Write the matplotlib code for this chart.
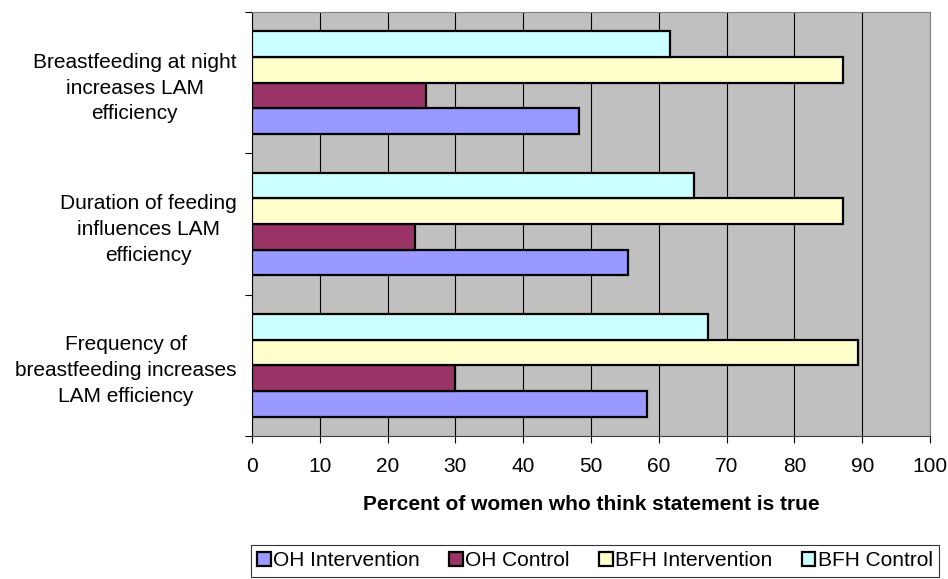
import numpy as np
import matplotlib
matplotlib.use("Agg")
import matplotlib.pyplot as plt

plt.rcParams['font.family'] = ['Liberation Sans', 'DejaVu Sans']

# categories from bottom to top (Excel draws the first category at the bottom)
statements = [
    "Frequency of\nbreastfeeding increases\nLAM efficiency",
    "Duration of feeding\ninfluences LAM\nefficiency",
    "Breastfeeding at night\nincreases LAM\nefficiency",
]
series_names = ["OH Intervention", "OH Control", "BFH Intervention", "BFH Control"]
oh_intervention = [58.2, 55.5, 48.3]
oh_control = [30.0, 24.1, 25.7]
bfh_intervention = [89.4, 87.1, 87.1]
bfh_control = [67.2, 65.2, 61.7]
x_ticks = list(range(0, 101, 10))

colors = ["#9999FF", "#993366", "#FFFFCC", "#CCFFFF"]
values = [oh_intervention, oh_control, bfh_intervention, bfh_control]
fs = 15

fig = plt.figure(figsize=(9.48, 5.79), dpi=100)
ax = fig.add_axes([252 / 948, 1 - 436 / 579, 678 / 948, 424 / 579])
ax.set_facecolor("#C0C0C0")

pos = np.arange(len(statements))
h = 1 / 5.5  # four bars plus a 150% gap
for i, (name, vals, c) in enumerate(zip(series_names, values, colors)):
    ax.barh(pos + (i - 1.5) * h, vals, height=h, color=c, edgecolor="black",
            linewidth=1.6, label=name, zorder=3)

ax.set_xlim(0, 100)
ax.set_ylim(-0.5, len(statements) - 0.5)
ax.set_xticks(x_ticks)
ax.xaxis.grid(True, color="black", linewidth=0.8, zorder=1)
ax.tick_params(axis="x", direction="out", length=5, width=0.8, pad=10,
               labelsize=fs)

# labels at category centres, tick marks at the category boundaries
ax.set_yticks(pos)
ax.set_yticklabels(statements, fontsize=fs, multialignment="center",
                   linespacing=1.45)
ax.tick_params(axis="y", which="major", length=0, pad=11)
ax.set_yticks(np.arange(-0.5, len(statements)), minor=True)
ax.tick_params(axis="y", which="minor", direction="out", length=5, width=0.8)

for side in ["top", "right"]:
    ax.spines[side].set_color("#808080")
ax.spines["left"].set_color("black")
ax.spines["bottom"].set_color("#404040")

fig.text((252 + 930) / 2 / 948, 1 - 505 / 579,
         "Percent of women who think statement is true",
         ha="center", va="center", fontsize=fs, fontweight="bold")

handles, labels = ax.get_legend_handles_labels()
leg = fig.legend(handles, labels, loc="center", ncol=4,
                 bbox_to_anchor=((250 + 940) / 2 / 948, 1 - 561 / 579),
                 fontsize=fs, frameon=True, fancybox=False,
                 handlelength=0.65, handleheight=0.65, handletextpad=0.12,
                 columnspacing=1.4, borderpad=0.3, borderaxespad=0)
leg.get_frame().set_edgecolor("black")
leg.get_frame().set_linewidth(0.8)

fig.savefig("out.png", dpi=100)
